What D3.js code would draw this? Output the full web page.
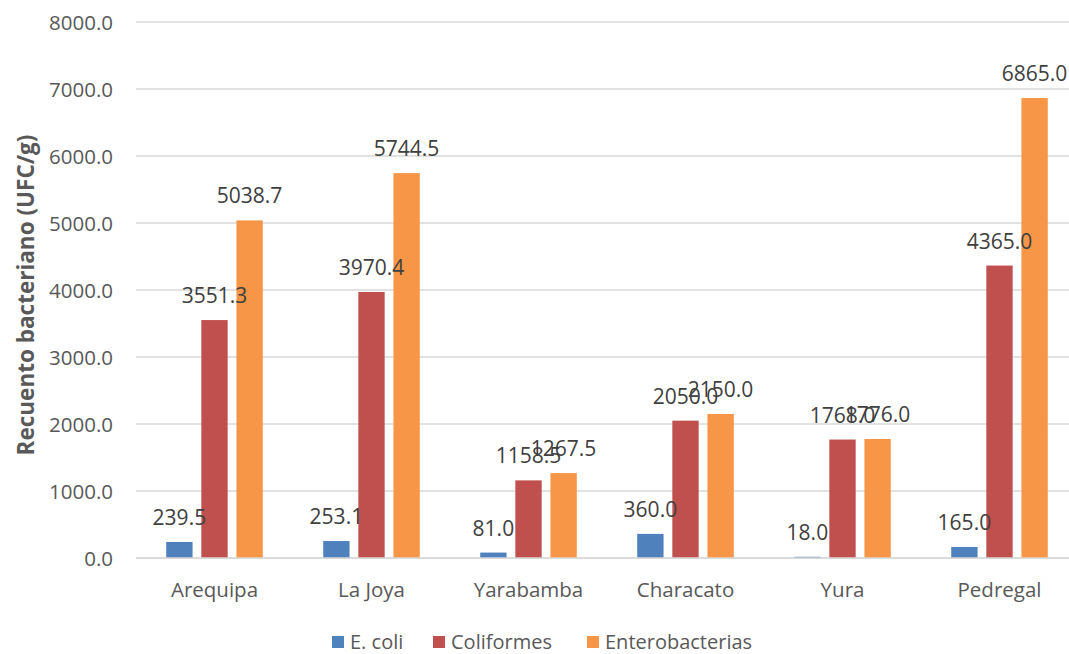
<!DOCTYPE html>
<html><head><meta charset="utf-8">
<script src="https://cdn.jsdelivr.net/npm/d3@7"></script>
<style>body{margin:0;background:#fff}svg{display:block}</style>
</head><body><svg id="c" width="1069" height="654"></svg>
<script>
const categories = ["Arequipa","La Joya","Yarabamba","Characato","Yura","Pedregal"];
const seriesNames = ["E. coli","Coliformes","Enterobacterias"];
const ecoli = [239.5,253.1,81.0,360.0,18.0,165.0];
const coliformes = [3551.3,3970.4,1158.5,2050.0,1768.0,4365.0];
const enterobacterias = [5038.7,5744.5,1267.5,2150.0,1776.0,6865.0];
const yTicks = [0,1000,2000,3000,4000,5000,6000,7000,8000];
const colors = ["#4f81bd","#c0504d","#f79646"];
const yTitle = "Recuento bacteriano (UFC/g)";

const series = [ecoli, coliformes, enterobacterias];
const svg = d3.select("#c");
const font = "'Open Sans', sans-serif";
const x = d3.scaleBand().domain(categories).range([136,1078]).paddingInner(0.385).paddingOuter(0.1925);
const xs = d3.scaleBand().domain(d3.range(3)).range([0, x.bandwidth()]).paddingInner(0.25);
const y = d3.scaleLinear().domain([0,8000]).range([558,22]);

// grid
svg.append("g").selectAll("line").data(yTicks).join("line")
  .attr("x1",136).attr("x2",1069).attr("y1",d=>y(d)).attr("y2",d=>y(d))
  .attr("stroke","#d9d9d9").attr("stroke-width",1.3);

// y axis labels
const yAxis = d3.axisLeft(y).tickValues(yTicks).tickFormat(d3.format(".1f")).tickSize(0).tickPadding(0);
const ya = svg.append("g").attr("transform","translate(113,0)").call(yAxis);
ya.select(".domain").remove();
ya.selectAll("text").attr("font-family",font).attr("font-size",20.5).attr("fill","#595959").attr("dy","0.36em");

// x axis labels
const xAxis = d3.axisBottom(x).tickSize(0).tickPadding(0);
const xa = svg.append("g").attr("transform","translate(0,597)").call(xAxis);
xa.select(".domain").remove();
xa.selectAll("text").attr("font-family",font).attr("font-size",20.5).attr("fill","#595959").attr("dy","0");

// bars
const g = svg.append("g");
series.forEach((vals,si)=>{
  g.append("g").selectAll("rect").data(vals).join("rect")
    .attr("x",(d,i)=>x(categories[i])+xs(si))
    .attr("width",xs.bandwidth())
    .attr("y",d=>y(d)).attr("height",d=>y(0)-y(d))
    .attr("fill",colors[si]);
});
svg.append("line").attr("x1",136).attr("x2",1069).attr("y1",y(0)).attr("y2",y(0)).attr("stroke","#d9d9d9").attr("stroke-width",1.3);

// data labels
series.forEach((vals,si)=>{
  g.append("g").selectAll("text").data(vals).join("text")
    .attr("x",(d,i)=>x(categories[i])+xs(si)+xs.bandwidth()/2)
    .attr("y",d=>y(d)-17)
    .attr("text-anchor","middle")
    .attr("font-family",font).attr("font-size",21).attr("fill","#404040")
    .text(d=>d3.format(".1f")(d));
});

// y title
svg.append("text").attr("transform","translate(34,295) rotate(-90)")
  .attr("text-anchor","middle").attr("font-family",font).attr("font-weight","bold")
  .attr("font-size",22.5).attr("fill","#595959").text(yTitle);

// legend
const legX = [332,433,587];
const lg = svg.append("g");
seriesNames.forEach((n,i)=>{
  lg.append("rect").attr("x",legX[i]).attr("y",636).attr("width",12).attr("height",12).attr("fill",colors[i]);
  lg.append("text").attr("x",legX[i]+18).attr("y",642).attr("dy","0.35em")
    .attr("font-family",font).attr("font-size",20).attr("fill","#595959").text(n);
});
</script></body></html>
